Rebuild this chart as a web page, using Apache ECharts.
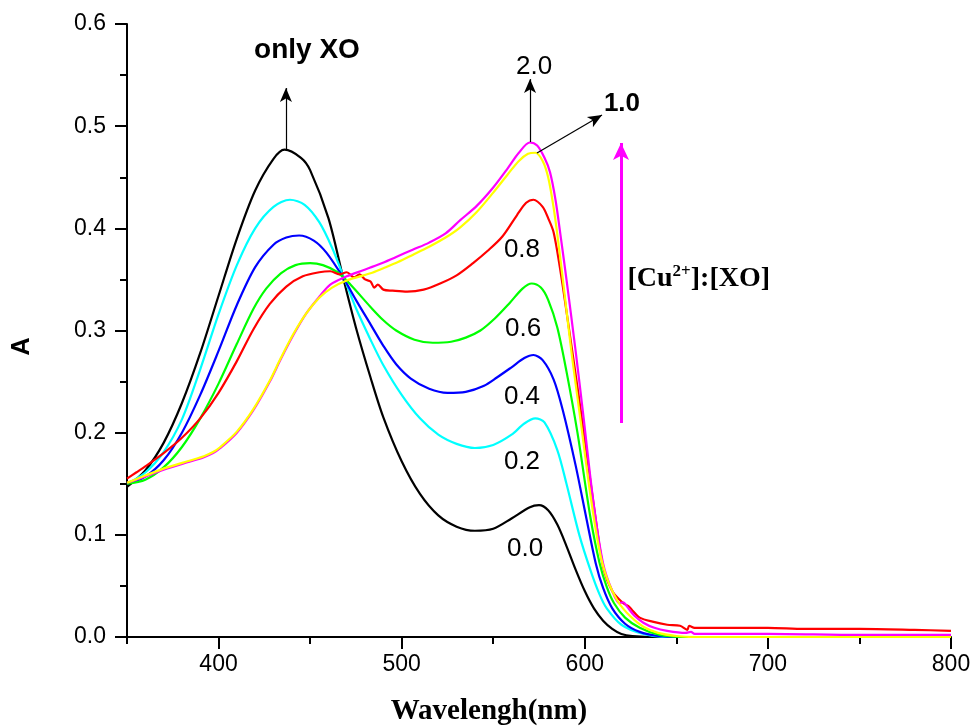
<!DOCTYPE html>
<html>
<head>
<meta charset="utf-8">
<script src="https://cdn.jsdelivr.net/npm/echarts@6/dist/echarts.min.js"></script>
<style>
  html, body { margin: 0; padding: 0; background: #fff; }
  #chart { width: 974px; height: 728px; }
</style>
</head>
<body>
<div id="chart"></div>
<script>
// UV-Vis absorption spectra of XO titrated with Cu2+ ([Cu2+]:[XO] ratio per curve)
const ratioLabels = ['0.0', '0.2', '0.4', '0.6', '0.8', '1.0', '2.0'];
const curveColors = ['#000000', '#00ffff', '#0000ff', '#00ff00', '#ff0000', '#ffff00', '#ff00ff'];

// 0.0 (only XO)
const wl00 = [350,360,370,380,390,400,410,420,430,436,445,450,460,468,475,483,490,500,510,520,530,540,550,560,570,575,580,585,590,595,600,605,610,615,620,626,640,700,800];
const abs00 = [0.147,0.163,0.190,0.229,0.278,0.334,0.390,0.437,0.468,0.477,0.469,0.457,0.410,0.352,0.303,0.254,0.215,0.172,0.140,0.119,0.108,0.104,0.106,0.116,0.127,0.129,0.124,0.110,0.089,0.066,0.045,0.028,0.016,0.008,0.003,0.001,0,0,0];

// 0.2
const wl02 = [350,360,370,380,390,400,410,420,430,439,447,455,462,468,475,483,490,500,510,520,530,540,550,560,567,573,578,585,590,597,603,608,612,620,632,645,700,800];
const abs02 = [0.150,0.161,0.181,0.213,0.262,0.316,0.364,0.400,0.421,0.428,0.423,0.406,0.381,0.354,0.322,0.291,0.266,0.237,0.214,0.198,0.189,0.185,0.188,0.198,0.209,0.214,0.210,0.183,0.150,0.100,0.066,0.042,0.028,0.012,0.003,0,0,0];

// 0.4
const wl04 = [350,360,370,380,390,400,410,420,430,437,444,452,459,468,475,483,490,497,505,515,525,535,545,552,560,567,572,577,583,588,595,601,606,610,615,622,630,640,650,700,800];
const abs04 = [0.150,0.157,0.173,0.200,0.237,0.280,0.325,0.362,0.384,0.391,0.393,0.388,0.376,0.352,0.330,0.306,0.285,0.267,0.253,0.243,0.239,0.240,0.246,0.254,0.264,0.273,0.276,0.271,0.252,0.222,0.168,0.115,0.072,0.048,0.028,0.013,0.005,0.001,0,0,0];

// 0.6
const wl06 = [350,360,370,380,390,400,410,419,426,434,442,450,457,465,472,483,490,497,507,517,527,535,543,551,559,566,571,576,580,585,590,596,603,608,612,616,622,630,641,655,700,800];
const abs06 = [0.150,0.154,0.166,0.186,0.214,0.248,0.287,0.321,0.341,0.356,0.364,0.366,0.364,0.357,0.345,0.323,0.310,0.300,0.291,0.288,0.289,0.293,0.300,0.312,0.327,0.341,0.346,0.342,0.330,0.303,0.260,0.200,0.118,0.073,0.049,0.033,0.019,0.009,0.002,0,0,0];

// 0.8
const wl08 = [350,355,360,370,380,390,400,410,419,428,437,446,455,461,466,470,474,477,480,483,485,487,490,495,503,512,521,530,539,547,555,563,568,572,577,580,583,587,592,597,601,606,610,615,621,624,626,630,637,645,652,656,657,660,700,720,750,780,800];
const abs08 = [0.155,0.161,0.167,0.180,0.195,0.214,0.239,0.270,0.301,0.326,0.343,0.353,0.357,0.358,0.355,0.357,0.352,0.355,0.350,0.348,0.342,0.345,0.340,0.339,0.338,0.340,0.346,0.354,0.366,0.378,0.392,0.413,0.425,0.428,0.421,0.410,0.396,0.355,0.294,0.232,0.180,0.115,0.069,0.045,0.033,0.030,0.026,0.019,0.015,0.012,0.011,0.007,0.011,0.009,0.009,0.008,0.008,0.007,0.006];

// 1.0
const wl10 = [350,360,372,385,392,397,401,410,419,428,434,441,448,455,462,470,483,490,498,506,515,524,532,541,550,558,564,569,573,577,580,583,586,589,593,598,603,608,612,618,625,632,640,650,660,800];
const abs10 = [0.151,0.158,0.166,0.173,0.177,0.181,0.186,0.201,0.223,0.251,0.273,0.297,0.317,0.332,0.342,0.349,0.356,0.361,0.367,0.374,0.382,0.391,0.401,0.416,0.435,0.453,0.466,0.473,0.474,0.466,0.450,0.420,0.380,0.335,0.275,0.208,0.140,0.085,0.058,0.035,0.020,0.010,0.004,0.001,0,0];

// 2.0
const wl20 = [350,360,372,385,392,397,401,410,419,428,434,441,448,455,461,470,479,488,497,506,515,524,532,541,550,558,564,570,574,578,581,584,587,590,595,599,605,610,615,619,621,623,627,632,638,645,655,658,660,700,750,800];
const abs20 = [0.151,0.157,0.165,0.172,0.176,0.180,0.185,0.200,0.222,0.250,0.272,0.296,0.317,0.333,0.345,0.353,0.359,0.365,0.372,0.379,0.386,0.395,0.408,0.422,0.440,0.459,0.474,0.484,0.481,0.469,0.455,0.428,0.390,0.350,0.280,0.220,0.128,0.072,0.045,0.033,0.034,0.030,0.021,0.014,0.009,0.006,0.004,0.005,0.003,0.003,0.002,0.002];

const wavelengths = [wl00, wl02, wl04, wl06, wl08, wl10, wl20];
const absorbances = [abs00, abs02, abs04, abs06, abs08, abs10, abs20];

// axis ticks
const xMajorTicks = [400, 500, 600, 700, 800];
const xMinorTicks = [350, 450, 550, 650, 750];

const SANS = '"Liberation Sans", Arial, sans-serif';
const SERIF = '"Liberation Serif", "Times New Roman", serif';

const chart = echarts.init(document.getElementById('chart'), null, { renderer: 'canvas' });

function pairs(xs, ys) {
  return xs.map((x, i) => [x, ys[i]]);
}

function textMark(coord, text, opts) {
  return {
    coord: coord,
    symbol: 'circle',
    symbolSize: 0,
    itemStyle: { color: 'rgba(0,0,0,0)' },
    label: Object.assign({
      show: true,
      formatter: text,
      position: 'inside',
      color: '#000',
      fontFamily: SANS,
      fontSize: 26
    }, opts || {})
  };
}

function arrow(from, to, color, width, size) {
  return [
    { coord: from, symbol: 'none' },
    { coord: to, symbol: 'arrow', symbolSize: size, lineStyle: { color: color, width: width } }
  ];
}

const drawOrder = [0, 1, 2, 3, 4, 6, 5];
const series = drawOrder.map(i => ({
  name: ratioLabels[i],
  type: 'line',
  xAxisIndex: 0,
  yAxisIndex: 0,
  data: pairs(wavelengths[i], absorbances[i]),
  showSymbol: false,
  symbol: 'none',
  smooth: 0.3,
  lineStyle: { color: curveColors[i], width: 2.2 },
  itemStyle: { color: curveColors[i] },
  animation: false,
  silent: true
}));

// arrows and text annotations ride on the first curve
series[0].markLine = {
  silent: true,
  animation: false,
  symbol: ['none', 'arrow'],
  label: { show: false },
  lineStyle: { color: '#000', width: 1, type: 'solid' },
  data: [
    arrow([436.8, 0.4767], [436.8, 0.5373], '#000', 1.2, [9, 14]),
    arrow([570.1, 0.4845], [570.1, 0.5461], '#000', 1.2, [9, 14]),
    arrow([573.9, 0.4737], [609.4, 0.5109], '#000', 1.2, [9, 14]),
    arrow([619.8, 0.2095], [619.8, 0.4835], '#ff00ff', 3, [12, 17])
  ]
};
series[0].markPoint = {
  silent: true,
  animation: false,
  data: [
    textMark([448.3, 0.5745], 'only XO', { fontWeight: 'bold', fontSize: 28 }),
    textMark([572.3, 0.5579], ratioLabels[6]),
    textMark([620.3, 0.5217], ratioLabels[5], { fontWeight: 'bold' }),
    textMark([565.7, 0.3788], ratioLabels[4]),
    textMark([566.3, 0.3015], ratioLabels[3]),
    textMark([565.7, 0.2349], ratioLabels[2]),
    textMark([565.7, 0.1713], ratioLabels[1]),
    textMark([567.4, 0.0861], ratioLabels[0]),
    textMark([623.3, 0.3504], '[Cu{sup|2+}]:[XO]', {
      position: 'right',
      distance: 0,
      fontFamily: SERIF,
      fontWeight: 'bold',
      fontSize: 28,
      rich: {
        sup: { fontFamily: SERIF, fontWeight: 'bold', fontSize: 17, color: '#000', padding: [0, 0, 15, 0] }
      }
    })
  ]
};

const option = {
  backgroundColor: '#fff',
  animation: false,
  grid: { left: 127, right: 23, top: 24, bottom: 91, containLabel: false, outerBoundsMode: 'none' },
  xAxis: [
    {
      type: 'value',
      min: 350,
      max: 800,
      interval: 50,
      position: 'bottom',
      axisLine: { show: true, onZero: false, lineStyle: { color: '#000', width: 2 } },
      axisTick: { show: true, inside: false, length: 12, customValues: xMajorTicks, lineStyle: { color: '#000', width: 2 } },
      axisLabel: { show: true, customValues: xMajorTicks, color: '#000', fontFamily: SANS, fontSize: 23, margin: 16 },
      splitLine: { show: false },
      name: 'Wavelengh(nm)',
      nameLocation: 'middle',
      nameGap: 60,
      nameTextStyle: { fontFamily: SERIF, fontWeight: 'bold', fontSize: 29, color: '#000', padding: [0, 100, 0, 0] }
    },
    {
      type: 'value',
      min: 350,
      max: 800,
      interval: 50,
      position: 'bottom',
      axisLine: { show: false, onZero: false },
      axisTick: { show: true, inside: false, length: 7, customValues: xMinorTicks, lineStyle: { color: '#000', width: 2 } },
      axisLabel: { show: false },
      splitLine: { show: false }
    }
  ],
  yAxis: {
    type: 'value',
    min: 0,
    max: 0.6,
    interval: 0.1,
    axisLine: { show: true, onZero: false, lineStyle: { color: '#000', width: 2 } },
    axisTick: { show: true, inside: false, length: 12, lineStyle: { color: '#000', width: 2 } },
    minorTick: { show: true, splitNumber: 2, length: 7, lineStyle: { color: '#000', width: 2 } },
    axisLabel: { color: '#000', fontFamily: SANS, fontSize: 23, margin: 21, formatter: v => v.toFixed(1) },
    splitLine: { show: false },
    minorSplitLine: { show: false },
    name: 'A',
    nameLocation: 'middle',
    nameGap: 92,
    nameTextStyle: { fontFamily: SANS, fontWeight: 'bold', fontSize: 25, color: '#000', padding: [0, 32, 0, 0] }
  },
  series: series
};

chart.setOption(option);
</script>
</body>
</html>
